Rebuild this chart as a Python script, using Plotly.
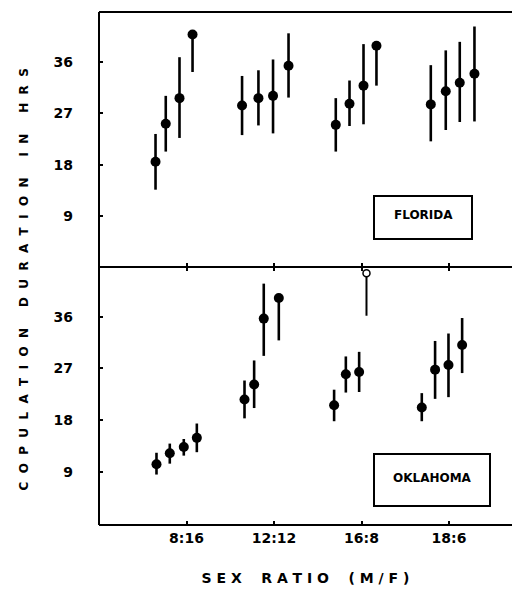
import plotly.graph_objects as go

# ---------------- data ----------------
ratio_labels = ["8:16", "12:12", "16:8", "18:6"]
ratio_ticks = [1, 2, 3, 4]
y_ticks = [9, 18, 27, 36]

# Florida (top panel)
fl_x = [0.646, 0.763, 0.920, 1.069,
        1.635, 1.822, 1.989, 2.166,
        2.706, 2.863, 3.023, 3.171,
        3.792, 3.963, 4.123, 4.291]
fl_mean = [18.5, 25.2, 29.7, 40.9,
           28.4, 29.7, 30.1, 35.4,
           25.0, 28.7, 31.9, 38.9,
           28.6, 30.9, 32.4, 34.0]
fl_hi = [23.4, 30.1, 36.9, 40.9,
         33.6, 34.6, 36.5, 41.1,
         29.7, 32.8, 39.2, 38.9,
         35.5, 38.1, 39.6, 42.3]
fl_lo = [13.6, 20.3, 22.7, 34.3,
         23.2, 24.9, 23.5, 29.8,
         20.3, 24.8, 25.1, 31.9,
         22.1, 24.1, 25.5, 25.6]

# Oklahoma (bottom panel)
ok_x = [0.657, 0.809, 0.969, 1.118,
        1.663, 1.773, 1.883, 2.055,
        2.687, 2.821, 2.973,
        3.689, 3.841, 3.994, 4.150]
ok_mean = [10.3, 12.2, 13.3, 14.9,
           21.6, 24.2, 35.7, 39.3,
           20.6, 26.0, 26.4,
           20.2, 26.8, 27.6, 31.1]
ok_hi = [12.3, 13.9, 14.7, 17.4,
         24.9, 28.4, 41.8, 39.3,
         23.3, 29.1, 29.9,
         22.7, 31.8, 33.1, 35.8]
ok_lo = [8.5, 10.4, 11.8, 12.4,
         18.3, 20.1, 29.2, 31.9,
         17.8, 22.8, 22.9,
         17.8, 21.7, 22.0, 26.2]

# open-circle point (Oklahoma, 16:8)
ok_open_x = [3.057]
ok_open_mean = [43.6]
ok_open_lo = [36.2]

# ---------------- figure ----------------
W, H = 512, 590
ML, MR, MT, MB = 99, 0, 12, 65
plot_h = H - MT - MB
split = (525 - 267) / plot_h

FONT = "DejaVu Sans"


def bfont(size):
    return dict(family=FONT, size=size, color="black", weight="bold")


def spaced(text, gap=2, wgap=5):
    nb = "\u00a0"
    words = text.split(" ")
    return (nb * wgap).join((nb * gap).join(list(w)) for w in words)


def plus(m, h):
    return [a - b for a, b in zip(h, m)]


def minus(m, l):
    return [b - a for a, b in zip(l, m)]


fig = go.Figure()

err_style = dict(type="data", symmetric=False, color="black", thickness=2.6, width=0)

fig.add_trace(go.Scatter(
    x=fl_x, y=fl_mean, mode="markers", xaxis="x2", yaxis="y2",
    marker=dict(color="black", size=10),
    error_y=dict(array=plus(fl_mean, fl_hi), arrayminus=minus(fl_mean, fl_lo), **err_style),
    showlegend=False,
))
fig.add_trace(go.Scatter(
    x=ok_x, y=ok_mean, mode="markers", xaxis="x", yaxis="y",
    marker=dict(color="black", size=10),
    error_y=dict(array=plus(ok_mean, ok_hi), arrayminus=minus(ok_mean, ok_lo), **err_style),
    showlegend=False,
))
fig.add_trace(go.Scatter(
    x=ok_open_x, y=ok_open_mean, mode="markers", xaxis="x", yaxis="y",
    marker=dict(color="white", size=7, line=dict(color="black", width=1.5)),
    error_y=dict(array=[0], arrayminus=minus(ok_open_mean, ok_open_lo),
                 type="data", symmetric=False, color="black", thickness=2, width=0),
    showlegend=False, cliponaxis=False,
))

xr = [0, (W - ML) / 87.5]

common_y = dict(
    tickvals=y_ticks, ticktext=[str(v) for v in y_ticks],
    ticks="inside", ticklen=4, tickwidth=1.5, tickcolor="black",
    showgrid=False, zeroline=False, showline=False,
    tickfont=bfont(14), ticklabelstandoff=25,
)

fig.update_layout(
    width=W, height=H,
    margin=dict(l=ML, r=MR, t=MT, b=MB),
    paper_bgcolor="white", plot_bgcolor="white",
    xaxis=dict(
        domain=[0, 1], range=xr, anchor="y",
        tickvals=ratio_ticks, ticktext=ratio_labels,
        ticks="inside", ticklen=4, tickwidth=1.5, tickcolor="black",
        mirror="ticks", showline=False,
        showgrid=False, zeroline=False, tickfont=bfont(14), ticklabelstandoff=3,
        title=dict(text=spaced("SEX RATIO (M/F)", 1, 4),
                   font=bfont(14), standoff=28),
    ),
    xaxis2=dict(
        domain=[0, 1], range=xr, anchor="y2", matches="x",
        tickvals=ratio_ticks, showticklabels=False,
        ticks="inside", ticklen=4, tickwidth=1.5, tickcolor="black",
        showline=False, showgrid=False, zeroline=False,
    ),
    yaxis=dict(domain=[0, split], range=[-0.3, 44.7], anchor="x", **common_y),
    yaxis2=dict(domain=[split, 1], range=[0, 44.85], anchor="x2", **common_y),
)

# frame lines (left, top, middle, bottom)
line = dict(color="black", width=2)
fig.add_shape(type="line", xref="paper", yref="paper", x0=0, x1=0, y0=0, y1=1, line=line)
fig.add_shape(type="line", xref="paper", yref="paper", x0=0, x1=1, y0=1, y1=1, line=line)
fig.add_shape(type="line", xref="paper", yref="paper", x0=0, x1=1, y0=split, y1=split, line=line)
fig.add_shape(type="line", xref="paper", yref="paper", x0=0, x1=1, y0=0, y1=0, line=line)

# y axis title as a rotated annotation spanning both panels
fig.add_annotation(
    text=spaced("COPULATION DURATION IN HRS", 2, 5),
    xref="paper", yref="paper", x=(23 - ML) / (W - ML), y=1 - (279.5 - MT) / plot_h,
    textangle=-90, showarrow=False, xanchor="center", yanchor="middle",
    font=bfont(12),
)


def px_x(p):
    return (p - ML) / (W - ML)


def px_y(p):
    return 1 - (p - MT) / plot_h


# state labels with boxes
for name, (x0, x1, y0, y1) in [("FLORIDA", (374, 472, 196, 239)),
                               ("OKLAHOMA", (374, 490, 454, 506))]:
    fig.add_shape(type="rect", xref="paper", yref="paper",
                  x0=px_x(x0), x1=px_x(x1), y0=px_y(y1), y1=px_y(y0),
                  line=dict(color="black", width=2), fillcolor="white")
    fig.add_annotation(text=name, xref="paper", yref="paper",
                       x=px_x((x0 + x1) / 2), y=px_y((y0 + y1) / 2 - 2),
                       showarrow=False, xanchor="center", yanchor="middle",
                       font=bfont(12))

fig.write_html("out.html")
